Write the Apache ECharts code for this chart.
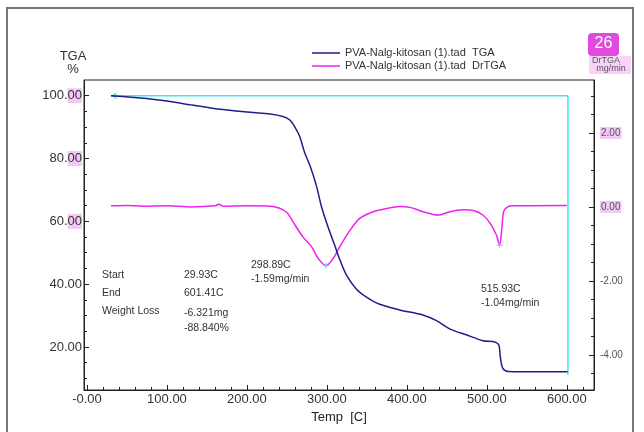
<!DOCTYPE html>
<html>
<head>
<meta charset="utf-8">
<script src="https://cdn.jsdelivr.net/npm/echarts@6/dist/echarts.min.js"></script>
<style>
  html, body { margin: 0; padding: 0; background: #fff; }
  #main { width: 644px; height: 432px; }
</style>
</head>
<body>
<div id="main"></div>
<script>
// TGA curve (weight %), temperature in C
var tgaTemp = [30, 60, 87, 110, 129, 150, 170, 204, 229, 245, 254, 260, 266, 272, 279, 287, 293, 301, 310, 316, 325, 337, 350, 366, 391, 420, 437, 454, 475, 495, 510, 515, 517, 520, 527, 560, 601];
var tgaVal  = [100.0, 99.4, 98.7, 97.9, 97.1, 96.3, 95.6, 94.7, 94.2, 93.4, 92.2, 90.0, 87.0, 82.0, 77.6, 71.2, 64.9, 58.5, 52.2, 47.9, 42.6, 38.4, 35.8, 33.6, 31.8, 30.2, 28.4, 25.7, 23.8, 22.0, 21.6, 20.6, 16.5, 13.2, 12.2, 12.1, 12.1];

// DrTGA curve (mg/min)
var drTemp = [30, 50, 70, 100, 130, 160, 165, 170, 200, 229, 240, 250, 258, 270, 281, 289, 298.89, 308, 316, 329, 341, 358, 375, 391, 405, 420, 439, 454, 470, 483, 495, 504, 512, 515.93, 519, 521, 526, 533, 600];
var drVal  = [0.03, 0.04, 0.02, 0.03, 0.0, 0.03, 0.07, 0.02, 0.03, 0.02, -0.03, -0.15, -0.42, -0.81, -1.08, -1.39, -1.59, -1.39, -1.08, -0.63, -0.31, -0.13, -0.04, 0.01, -0.02, -0.13, -0.22, -0.13, -0.08, -0.1, -0.22, -0.44, -0.76, -1.04, -0.53, -0.13, 0.0, 0.03, 0.04];

// peaks of DrTGA
var peakTemp = [298.89, 515.93];
var peakVal  = [-1.59, -1.04];

// weight-loss box (start / end)
var boxTemp = [29.93, 601.41, 601.41];
var boxVal  = [100, 100, 11.16];

// axis ticks
var xTicks = [0, 100, 200, 300, 400, 500, 600];
var xMinor = [20, 40, 60, 80, 120, 140, 160, 180, 220, 240, 260, 280, 320, 340, 360, 380, 420, 440, 460, 480, 520, 540, 560, 580, 620];
var leftTicks = [20, 40, 60, 80, 100];
var leftMinor = [10, 15, 25, 30, 35, 45, 50, 55, 65, 70, 75, 85, 90, 95];
var rightTicks = [-4, -2, 0, 2];
var rightMinor = [-4.5, -3.5, -3, -2.5, -1.5, -1, -0.5, 0.5, 1, 1.5, 2.5, 3];

var X_MIN = -3.75, X_MAX = 634;
var L_MIN = 6.3, L_MAX = 105;
var R_MIN = -4.95, R_MAX = 3.43;

var nameTGA = 'PVA-Nalg-kitosan (1).tad  TGA';
var nameDr = 'PVA-Nalg-kitosan (1).tad  DrTGA';

var myChart = echarts.init(document.getElementById('main'));

function zip(a, b) {
  return a.map(function (v, i) { return [v, b[i]]; });
}

var axisColor = '#222';
var textFont = 'Liberation Sans, Arial, sans-serif';

var option = {
  backgroundColor: '#fff',
  animation: false,
  textStyle: { fontFamily: textFont },
  grid: {
    left: 84, right: 50, top: 80, bottom: 42,
    show: true, borderColor: axisColor, borderWidth: 1, backgroundColor: 'transparent'
  },
  legend: {
    orient: 'vertical',
    left: 307, top: 42,
    icon: 'rect',
    itemWidth: 28, itemHeight: 1.5,
    itemGap: 1,
    textStyle: { fontSize: 11, color: '#333', lineHeight: 12, fontFamily: textFont },
    data: [nameTGA, nameDr]
  },
  xAxis: [
    {
      type: 'value', min: X_MIN, max: X_MAX,
      name: 'Temp  [C]', nameLocation: 'middle', nameGap: 18,
      nameTextStyle: { fontSize: 13, color: '#222' },
      axisLine: { show: true, onZero: false, lineStyle: { color: axisColor } },
      axisTick: { show: true, inside: true, length: 5, customValues: xTicks, lineStyle: { color: axisColor } },
      axisLabel: {
        customValues: xTicks, margin: 3, fontSize: 13, color: '#333',
        formatter: function (v) { return v === 0 ? '-0.00' : v.toFixed(2); }
      },
      splitLine: { show: false }
    },
    {
      type: 'value', min: X_MIN, max: X_MAX, position: 'bottom',
      axisLine: { show: false, onZero: false },
      axisTick: { show: true, inside: true, length: 3, customValues: xMinor, lineStyle: { color: axisColor } },
      axisLabel: { show: false },
      splitLine: { show: false }
    }
  ],
  yAxis: [
    {
      type: 'value', min: L_MIN, max: L_MAX, position: 'left',
      axisLine: { show: true, onZero: false, lineStyle: { color: axisColor } },
      axisTick: { show: true, inside: true, length: 5, customValues: leftTicks, lineStyle: { color: axisColor } },
      axisLabel: {
        customValues: leftTicks, margin: 2,
        formatter: function (v) {
          var s = v.toFixed(2);
          if (v >= 60) return '{n|' + s.slice(0, -2) + '}{h|' + s.slice(-2) + '}';
          return '{n|' + s + '}';
        },
        rich: {
          n: { fontSize: 13, color: '#333' },
          h: { fontSize: 13, color: '#333', backgroundColor: '#f4c8f4', padding: [1, 0, 1, 0] }
        }
      },
      splitLine: { show: false }
    },
    {
      type: 'value', min: R_MIN, max: R_MAX, position: 'right',
      axisLine: { show: true, onZero: false, lineStyle: { color: axisColor } },
      axisTick: { show: true, inside: true, length: 5, customValues: rightTicks, lineStyle: { color: axisColor } },
      axisLabel: {
        customValues: rightTicks, margin: 6,
        formatter: function (v) {
          var s = v.toFixed(2);
          return v >= 0 ? '{h|' + s + '}' : '{n|' + s + '}';
        },
        rich: {
          n: { fontSize: 10, color: '#555' },
          h: { fontSize: 10, color: '#555', backgroundColor: '#f4c8f4', padding: [1, 1, 1, 1] }
        }
      },
      splitLine: { show: false }
    },
    {
      type: 'value', min: L_MIN, max: L_MAX, position: 'left',
      axisLine: { show: false, onZero: false },
      axisTick: { show: true, inside: true, length: 3, customValues: leftMinor, lineStyle: { color: axisColor } },
      axisLabel: { show: false },
      splitLine: { show: false }
    },
    {
      type: 'value', min: R_MIN, max: R_MAX, position: 'right',
      axisLine: { show: false, onZero: false },
      axisTick: { show: true, inside: true, length: 3, customValues: rightMinor, lineStyle: { color: axisColor } },
      axisLabel: { show: false },
      splitLine: { show: false }
    }
  ],
  series: [
    {
      name: 'box', type: 'line', xAxisIndex: 0, yAxisIndex: 0,
      data: zip(boxTemp, boxVal),
      symbol: function (v, p) { return p.dataIndex === 0 ? 'arrow' : 'none'; },
      symbolSize: [5, 6], symbolRotate: 90,
      itemStyle: { color: '#44e4f0' },
      lineStyle: { color: '#44e4f0', width: 1.5 },
      silent: true, z: 1
    },
    {
      name: nameDr, type: 'line', xAxisIndex: 0, yAxisIndex: 1,
      data: zip(drTemp, drVal),
      smooth: 0.3, showSymbol: false,
      itemStyle: { color: '#ee22ee' },
      lineStyle: { color: '#ee22ee', width: 1.5 },
      z: 2
    },
    {
      name: nameTGA, type: 'line', xAxisIndex: 0, yAxisIndex: 0,
      data: zip(tgaTemp, tgaVal),
      smooth: 0.3, showSymbol: false,
      itemStyle: { color: '#1c1f8c' },
      lineStyle: { color: '#1c1f8c', width: 1.5 },
      z: 3
    },
    {
      name: 'peaks', type: 'scatter', xAxisIndex: 0, yAxisIndex: 1,
      data: zip(peakTemp, peakVal),
      symbol: 'path://M4,0H6V4H10V6H6V10H4V6H0V4H4Z',
      symbolSize: 6,
      itemStyle: { color: '#44e4f0' },
      silent: true, z: 4
    }
  ],
  graphic: [
    // outer frame
    { type: 'rect', shape: { x: 7, y: 8, width: 626, height: 440 }, style: { fill: 'none', stroke: '#777', lineWidth: 2 }, silent: true },
    // axis titles
    { type: 'text', x: 73, y: 50, style: { text: 'TGA\n%', fill: '#333', font: '13px ' + textFont, textAlign: 'center', lineHeight: 13 } },
    { type: 'rect', shape: { x: 589, y: 56, width: 42, height: 18 }, style: { fill: '#f8d2f8' }, silent: true },
    { type: 'text', x: 606, y: 56, style: { text: 'DrTGA', fill: '#555', font: '9px ' + textFont, textAlign: 'center' } },
    { type: 'text', x: 611, y: 64, style: { text: 'mg/min', fill: '#555', font: '9px ' + textFont, textAlign: 'center' } },
    // page badge
    { type: 'rect', shape: { x: 588, y: 33, width: 31, height: 23, r: 4 }, style: { fill: '#e04ade' }, silent: true },
    { type: 'text', x: 603.5, y: 36, style: { text: '26', fill: '#fff', font: '16px ' + textFont, textAlign: 'center' } },
    // weight loss table
    { type: 'text', x: 102, y: 270, style: { text: 'Start', fill: '#333', font: '10.5px ' + textFont } },
    { type: 'text', x: 184, y: 270, style: { text: '29.93C', fill: '#333', font: '10.5px ' + textFont } },
    { type: 'text', x: 102, y: 288, style: { text: 'End', fill: '#333', font: '10.5px ' + textFont } },
    { type: 'text', x: 184, y: 288, style: { text: '601.41C', fill: '#333', font: '10.5px ' + textFont } },
    { type: 'text', x: 102, y: 306, style: { text: 'Weight Loss', fill: '#333', font: '10.5px ' + textFont } },
    { type: 'text', x: 184, y: 306, style: { text: '-6.321mg\n-88.840%', fill: '#333', font: '10.5px ' + textFont, lineHeight: 15 } },
    // peak annotations
    { type: 'text', x: 251, y: 258, style: { text: '298.89C\n-1.59mg/min', fill: '#333', font: '10.5px ' + textFont, lineHeight: 14 } },
    { type: 'text', x: 481, y: 282, style: { text: '515.93C\n-1.04mg/min', fill: '#333', font: '10.5px ' + textFont, lineHeight: 14 } }
  ]
};

myChart.setOption(option);
</script>
</body>
</html>
